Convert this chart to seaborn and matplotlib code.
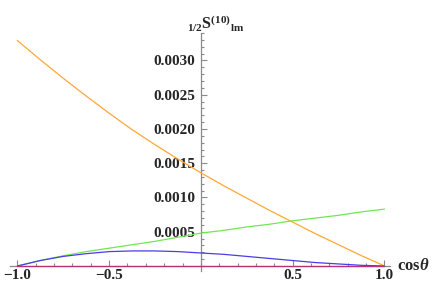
import pandas as pd
import seaborn as sns
import matplotlib.pyplot as plt
from matplotlib.ticker import FixedLocator, MultipleLocator

# values
cos_theta = [-1.0, -0.875, -0.75, -0.625, -0.5, -0.375, -0.25, -0.125, 0.0,
             0.125, 0.25, 0.375, 0.5, 0.625, 0.75, 0.875, 1.0]
s_orange = [0.00329, 0.00301, 0.00274, 0.00248, 0.00223, 0.00199, 0.00177, 0.00156, 0.00136,
            0.00117, 0.00099, 0.00081, 0.00064, 0.00047, 0.00031, 0.00015, 0.0]
s_green = [0.0, 0.00008, 0.00015, 0.00021, 0.00026, 0.00031, 0.00036, 0.00042, 0.00048,
           0.00052, 0.00057, 0.00061, 0.00066, 0.00070, 0.00074, 0.00079, 0.00083]
s_blue = [0.0, 0.00008, 0.00014, 0.00018, 0.00021, 0.00022, 0.00022, 0.00021, 0.00019,
          0.00017, 0.00014, 0.00011, 0.00008, 0.00005, 0.00003, 0.00001, 0.0]
s_magenta = [0.0] * len(cos_theta)

x_ticks = [-1.0, -0.5, 0.5, 1.0]
y_ticks = [0.0005, 0.0010, 0.0015, 0.0020, 0.0025, 0.0030]

colors = {'orange': '#FFA733', 'green': '#72E650', 'blue': '#4B3BEA', 'magenta': '#B8307A'}

df = pd.DataFrame({'cos': cos_theta, 'orange': s_orange, 'green': s_green,
                   'blue': s_blue, 'magenta': s_magenta})
df = df.melt(id_vars='cos', var_name='series', value_name='S')

sns.set_style('white')
plt.rcParams['font.family'] = ['Liberation Serif', 'DejaVu Serif']
plt.rcParams['font.weight'] = 'bold'
plt.rcParams['mathtext.fontset'] = 'custom'
plt.rcParams['mathtext.rm'] = 'Liberation Serif:bold'
plt.rcParams['mathtext.it'] = 'Liberation Serif:italic:bold'
plt.rcParams['mathtext.bf'] = 'Liberation Serif:bold'

fig = plt.figure(figsize=(4.36, 2.91), dpi=100)
ax = fig.add_axes([0.0229, 0.0694, 0.8716, 0.8172])

sns.lineplot(data=df, x='cos', y='S', hue='series', palette=colors, linewidth=0.9,
             legend=False, ax=ax, estimator=None, sort=False)

ax.set_xlim(-1.04, 1.03)
ax.set_ylim(-0.00007, 0.0034)
ax.set_xlabel('')
ax.set_ylabel('')

# axes crossing at the origin, Mathematica style
for side in ['top', 'right']:
    ax.spines[side].set_visible(False)
ax.spines['left'].set_position(('data', 0))
ax.spines['bottom'].set_position(('data', 0))
for side in ['left', 'bottom']:
    ax.spines[side].set_color('#8a8a8a')
    ax.spines[side].set_linewidth(0.9)
    ax.spines[side].set_zorder(0.5)

ax.xaxis.set_major_locator(FixedLocator(x_ticks))
ax.xaxis.set_minor_locator(MultipleLocator(0.1))
ax.set_xticklabels([f'{v:.1f}'.replace('-', '\u2212') for v in x_ticks],
                   fontweight='bold', fontsize=11)
ax.yaxis.set_major_locator(FixedLocator(y_ticks))
ax.yaxis.set_minor_locator(MultipleLocator(0.0001))
ax.set_yticklabels([f'{v:.4f}' for v in y_ticks], fontweight='bold', fontsize=11)

ax.tick_params(axis='x', which='both', bottom=True, direction='in')
ax.tick_params(axis='y', which='both', left=True, direction='in')
ax.tick_params(axis='both', which='both', color='#8a8a8a', width=0.8)
ax.tick_params(axis='both', which='major', length=4.5)
ax.tick_params(axis='both', which='minor', length=2.5)
ax.tick_params(axis='x', which='major', pad=2)
ax.tick_params(axis='y', which='major', pad=4)

ax.text(1.07, 0.0, r'$\mathbf{cos}\theta$', ha='left', va='center', fontsize=12,
        fontweight='bold', clip_on=False)
ax.text(0.08, 0.00354, r'${}_{\mathbf{1/2}}\mathbf{S}^{\mathbf{(10)}}{}_{\mathbf{lm}}$',
        ha='center', va='center', fontsize=11.5, fontweight='bold', clip_on=False)

fig.savefig('out.png', dpi=100)
